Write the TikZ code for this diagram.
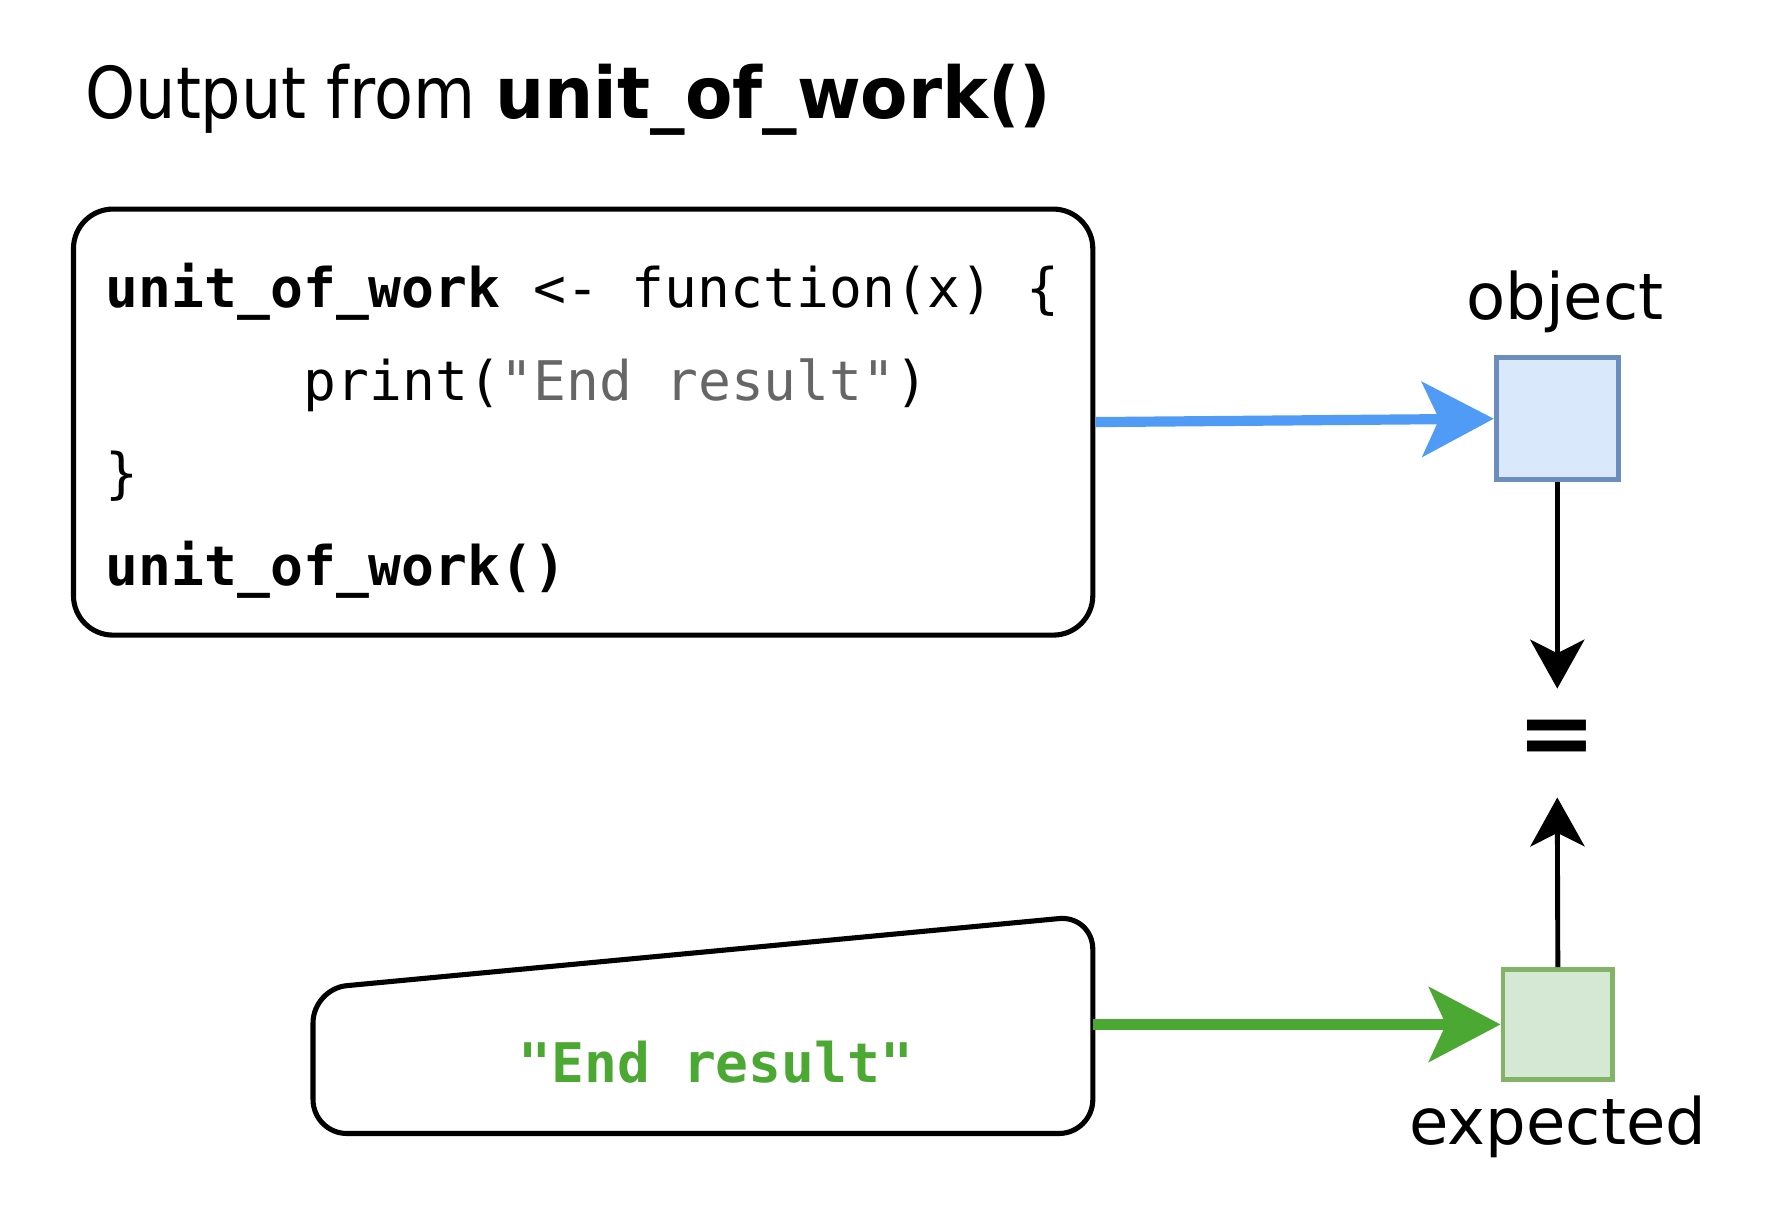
\documentclass[tikz,border=0pt]{standalone}
\usepackage{fontspec}
\setmainfont{DejaVu Sans}
\setmonofont{DejaVu Sans Mono}
\newfontfamily\titlefont{DejaVu Sans}[FakeStretch=0.89]
\newfontfamily\titlebf{DejaVu Sans}[FakeStretch=0.965]
\usetikzlibrary{arrows.meta,positioning}
\definecolor{objfill}{HTML}{DAE8FC}
\definecolor{objedge}{HTML}{6C8EBF}
\definecolor{expfill}{HTML}{D5E8D4}
\definecolor{expedge}{HTML}{82B366}
\definecolor{arrblue}{HTML}{4F9BF5}
\definecolor{resgreen}{HTML}{4BA833}
\definecolor{strgray}{HTML}{666666}

\begin{document}
\begin{tikzpicture}[x=0.3pt,y=-0.3pt,
  box/.style={draw,line width=1.35pt,rounded corners=10.5pt},
  code/.style={anchor=base west,inner sep=0,font=\ttfamily\fontsize{14.5}{17}\selectfont},
  lbl/.style={inner sep=0,font=\fontsize{17}{20}\selectfont},
  sq/.style={line width=1.3pt,inner sep=0},
  fat/.style={line width=2.7pt,-{Stealth[length=19pt,width=19.8pt,inset=4.5pt]}},
  thin/.style={line width=1.3pt,-{Stealth[length=13pt,width=14.4pt,inset=3.6pt]}}]
\useasboundingbox (0,0) rectangle (1568,1072.5);

% title
\node[anchor=base west,inner sep=0,font=\titlefont\fontsize{19}{22}\selectfont] (title) at (75,105)
  {Output from {\titlebf\bfseries unit\_of\_work()}};

% the function
\node[box,minimum width=270.6pt,minimum height=113.1pt] (code) at (516,373.5) {};
\node[code] (l1) at (93,272) {\textbf{unit\_of\_work} <- function(x) \{};
\node[code] (l2) at (268,354) {print(\textcolor{strgray}{"End result"})};
\node[code] (l3) at (93,436) {\}};
\node[code] (l4) at (93,518) {\textbf{unit\_of\_work()}};

% object = expected
\node[sq,draw=objedge,fill=objfill,minimum size=32.4pt] (obj) at (1378,370.5) {};
\node[lbl,above=5.7pt of obj,xshift=2pt] (objlbl) {object};
\node[inner sep=0,minimum height=28.5pt,font=\bfseries\fontsize{25}{25}\selectfont] (eq) at (1378,657.5) {=};
\node[sq,draw=expedge,fill=expfill,minimum size=29.1pt] (exp) at (1378.5,906.5) {};
\node[lbl,below=3.6pt of exp] (explbl) {expected};

% the expected value
\draw[line width=1.35pt,rounded corners=9pt] (622,1003) -- (277,1003) -- (277,875) -- (967,810) -- (967,1003) -- cycle;
\coordinate (res) at (967,906.5);
\node[code,anchor=base,text=resgreen,font=\ttfamily\bfseries\fontsize{14.5}{17}\selectfont] (restxt) at (633.5,958) {"End result"};

\draw[fat,arrblue] (code.east) -- (obj.west);
\draw[fat,resgreen] (res) -- (exp.west);
\draw[thin] (obj.south) -- (eq.north);
\draw[thin] (exp.north) -- (eq.south);
\end{tikzpicture}
\end{document}
